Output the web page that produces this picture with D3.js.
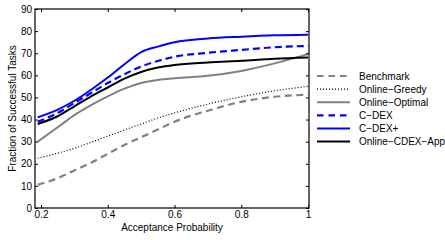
<!DOCTYPE html>
<html>
<head>
<meta charset="utf-8">
<script src="https://cdn.jsdelivr.net/npm/d3@7"></script>
<style>
  body { margin: 0; background: #fff; }
  text { font-family: "Liberation Sans", Arial, sans-serif; font-size: 10px; fill: #000; }
</style>
</head>
<body>
<svg width="445" height="240"></svg>
<script>
var probs = [0.19, 0.25, 0.3, 0.35, 0.4, 0.45, 0.5, 0.55, 0.6, 0.7, 0.8, 0.9, 1.0];

var benchmark = [10.5, 13.5, 17, 20.5, 24.5, 28.5, 32, 35.5, 39, 44, 48, 50.3, 51.2];
var greedy    = [22.5, 24.8, 27, 29.7, 32.5, 35.3, 38, 40.7, 43, 47, 50.3, 53, 55];
var optimal   = [30, 36.5, 42, 46.5, 50.5, 54, 56.5, 57.9, 58.7, 59.8, 62, 65.4, 69.6];
var cdex      = [39, 43, 47.5, 52, 56.5, 60.5, 64, 66.5, 68.4, 70.2, 71.5, 72.7, 73.3];
var cdexPlus  = [41, 44.5, 48.5, 53.5, 59, 65, 70.5, 73, 75, 76.7, 77.5, 78.1, 78.4];
var cdexApp   = [38, 41.5, 46, 50.5, 54.5, 58.5, 61.5, 63.5, 64.7, 65.8, 66.6, 67.5, 68.1];

var xTicks = [0.2, 0.4, 0.6, 0.8, 1];
var yTicks = [0, 10, 20, 30, 40, 50, 60, 70, 80, 90];

var series = [
  {name: "Benchmark",       values: benchmark, color: "#808080", width: 2.2, dash: "7,4.5"},
  {name: "Online\u2212Greedy",   values: greedy,    color: "#000",    width: 1.2, dash: "1,2"},
  {name: "Online\u2212Optimal",  values: optimal,   color: "#808080", width: 2,   dash: null},
  {name: "C\u2212DEX",           values: cdex,      color: "#0000ff", width: 2.2, dash: "7,4"},
  {name: "C\u2212DEX+",          values: cdexPlus,  color: "#0000ff", width: 2,   dash: null},
  {name: "Online\u2212CDEX\u2212App", values: cdexApp, color: "#000", width: 2,   dash: null}
];

var svg = d3.select("svg"),
  pLeft = 35, pRight = 309, pTop = 9, pBottom = 208;

var x = d3.scaleLinear().domain([0.182, 1.003]).range([pLeft, pRight]);
var y = d3.scaleLinear().domain([0, 90]).range([pBottom, pTop]);

var line = d3.line()
  .x(function(d) { return x(d[0]); })
  .y(function(d) { return y(d[1]); })
  .curve(d3.curveMonotoneX);

// curves
svg.selectAll(".curve")
  .data(series)
  .enter().append("path")
  .attr("class", "curve")
  .attr("fill", "none")
  .attr("stroke", function(d) { return d.color; })
  .attr("stroke-width", function(d) { return d.width; })
  .attr("stroke-dasharray", function(d) { return d.dash; })
  .attr("d", function(d) { return line(d.values.map(function(v, i) { return [probs[i], v]; })); });

// axes, matlab style box with inward ticks
var tick = 3;
svg.append("g")
  .attr("transform", "translate(0," + pBottom + ")")
  .call(d3.axisBottom(x).tickValues(xTicks).tickSizeInner(-tick).tickSizeOuter(0).tickPadding(3)
    .tickFormat(function(d) { return d === 1 ? "1" : d3.format(".1f")(d); }));
svg.append("g")
  .attr("transform", "translate(0," + pTop + ")")
  .call(d3.axisTop(x).tickValues(xTicks).tickSizeInner(-tick).tickSizeOuter(0).tickFormat(""));
svg.append("g")
  .attr("transform", "translate(" + pLeft + ",0)")
  .call(d3.axisLeft(y).tickValues(yTicks).tickSizeInner(-tick).tickSizeOuter(0).tickPadding(3));
svg.append("g")
  .attr("transform", "translate(" + pRight + ",0)")
  .call(d3.axisRight(y).tickValues(yTicks).tickSizeInner(-tick).tickSizeOuter(0).tickFormat(""));

svg.selectAll(".domain").remove();
svg.selectAll(".tick line").attr("stroke", "#000");
svg.selectAll(".tick text").style("font-size", "10px").attr("font-family", null);

svg.append("rect")
  .attr("x", pLeft).attr("y", pTop)
  .attr("width", pRight - pLeft).attr("height", pBottom - pTop)
  .attr("fill", "none").attr("stroke", "#000").attr("stroke-width", 1.2);

// axis labels
svg.append("text")
  .attr("x", (pLeft + pRight) / 2).attr("y", 231)
  .attr("text-anchor", "middle")
  .text("Acceptance Probability");
svg.append("text")
  .attr("transform", "translate(16," + (pTop + pBottom) / 2 + ") rotate(-90)")
  .attr("text-anchor", "middle")
  .text("Fraction of Successful Tasks");

// legend
var legend = svg.selectAll(".legend")
  .data(series)
  .enter().append("g")
  .attr("class", "legend")
  .attr("transform", function(d, i) { return "translate(317," + (76 + i * 13.1) + ")"; });

legend.append("line")
  .attr("x1", 0).attr("x2", 33)
  .attr("stroke", function(d) { return d.color; })
  .attr("stroke-width", function(d) { return d.width; })
  .attr("stroke-dasharray", function(d) { return d.dash ? (d.dash === "1,2" ? d.dash : "6.5,5") : null; });

legend.append("text")
  .attr("x", 42).attr("dy", "0.35em")
  .text(function(d) { return d.name; });
</script>
</body>
</html>
